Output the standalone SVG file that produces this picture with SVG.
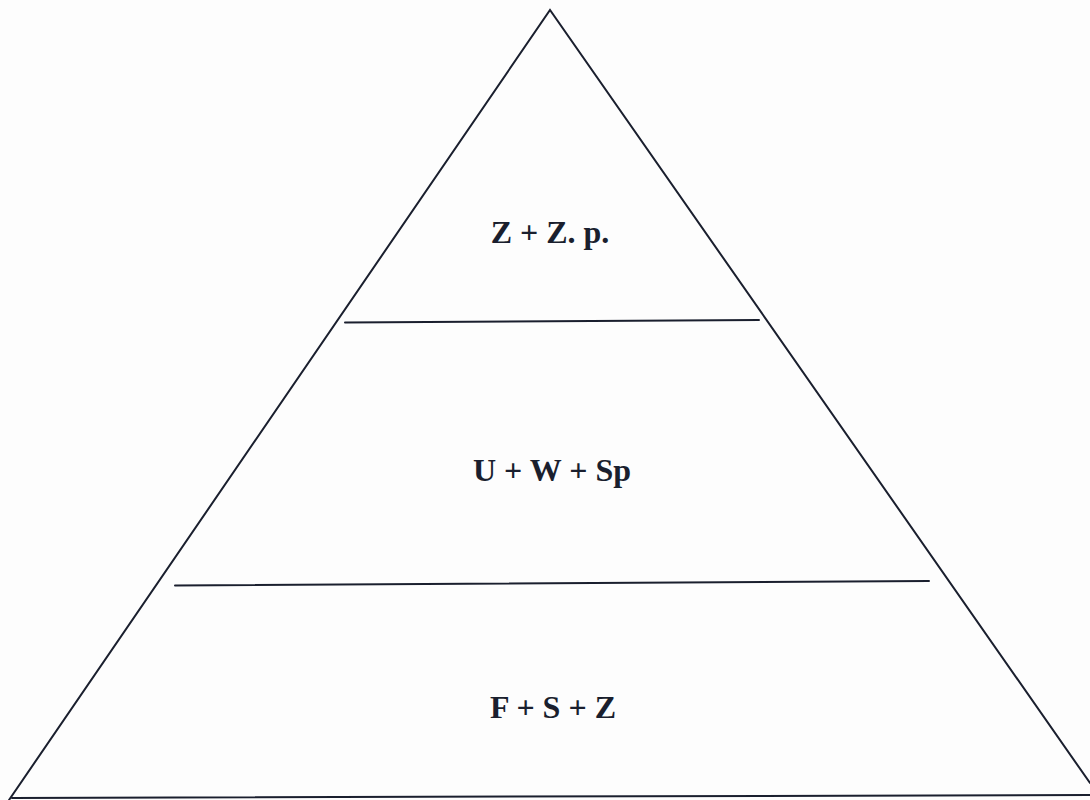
<svg xmlns="http://www.w3.org/2000/svg" width="1090" height="800" viewBox="0 0 1090 800">
<style>
.ln{stroke:#1a1f2e;stroke-width:2;fill:none;stroke-linecap:round}
.lbl{font-family:"Liberation Serif","Times New Roman",serif;font-weight:bold;font-size:32px;fill:#1a1f2e;text-anchor:middle}
</style>
<rect width="1090" height="800" fill="#fdfdfd"/>
<g id="connectors">
<polyline class="ln" points="9,800 550,10 1090,783"/>
<line class="ln" x1="12" y1="798" x2="1090" y2="795"/>
<line class="ln" x1="345" y1="322.5" x2="759" y2="320"/>
<line class="ln" x1="175" y1="585.5" x2="929" y2="581"/>
</g>
<g id="top"><text class="lbl" x="550" y="243">Z + Z. p.</text></g>
<g id="middle"><text class="lbl" x="552" y="481">U + W + Sp</text></g>
<g id="bottom"><text class="lbl" x="553" y="718">F + S + Z</text></g>
</svg>
